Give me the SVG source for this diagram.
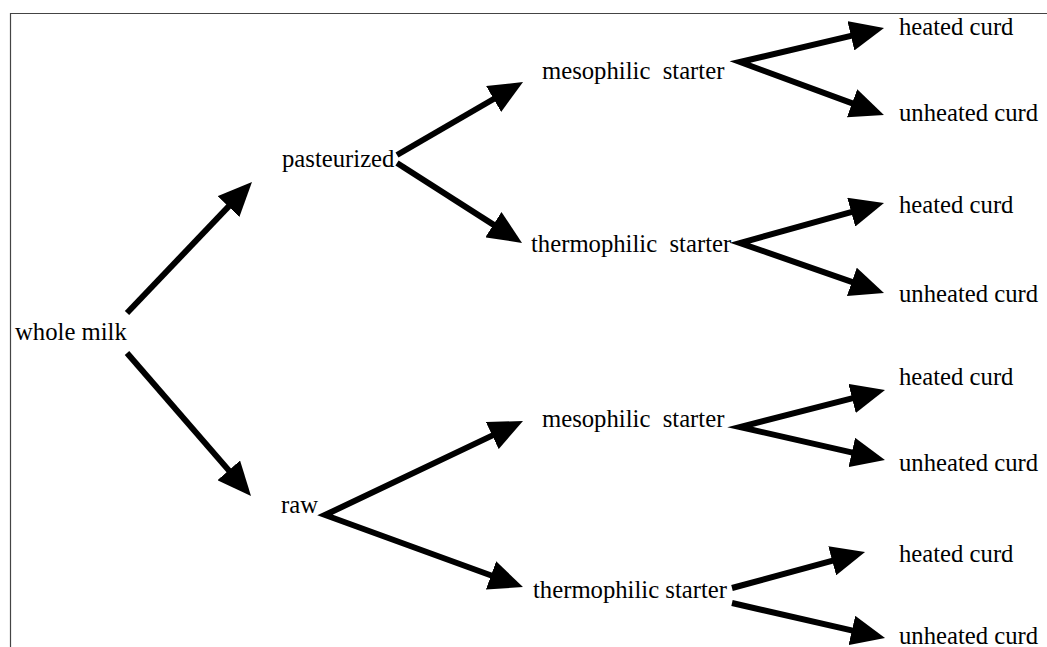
<svg xmlns="http://www.w3.org/2000/svg" width="1047" height="647" viewBox="0 0 1047 647">
<style>
.t{font-family:'Liberation Serif','Times New Roman',Times,'DejaVu Serif',serif;font-size:24.7px;fill:#000}
.c{fill:none;stroke:#000;stroke-width:6;stroke-linejoin:miter;stroke-miterlimit:20}
.frame{fill:none;stroke:#444;stroke-width:1.2}
</style>
<defs>
<marker id="ah" markerUnits="userSpaceOnUse" markerWidth="34" markerHeight="30" viewBox="0 0 34 30" refX="12" refY="15" orient="auto-start-reverse">
<path d="M0,0 L34,15 L0,30 Z" fill="#000"/>
</marker>
</defs>
<rect width="1047" height="647" fill="#fff"/>
<path class="frame" d="M10.5,647 L10.5,13.5 L1047,13.5"/>
<g id="connectors">
<path class="c" d="M127,313 L236.8,197.9" marker-end="url(#ah)"/>
<path class="c" d="M127,353 L236.6,479.4" marker-end="url(#ah)"/>
<path class="c" d="M397,155 L504,93" marker-end="url(#ah)"/>
<path class="c" d="M397,163 L503.5,231.1" marker-end="url(#ah)"/>
<path class="c" d="M503.1,430.4 L325,515 L502.3,579.5" marker-start="url(#ah)" marker-end="url(#ah)"/>
<path class="c" d="M862.6,33.1 L740,62 L863.3,107.4" marker-start="url(#ah)" marker-end="url(#ah)"/>
<path class="c" d="M862.8,208.9 L740,243 L863.2,285.8" marker-start="url(#ah)" marker-end="url(#ah)"/>
<path class="c" d="M863.7,395.4 L740,427 L863.5,455.1" marker-start="url(#ah)" marker-end="url(#ah)"/>
<path class="c" d="M732,588 L843.8,557.7" marker-end="url(#ah)"/>
<path class="c" d="M732,603 L863.6,633.1" marker-end="url(#ah)"/>
</g>
<g id="n-whole-milk"><text class="t" x="15" y="340">whole milk</text></g>
<g id="n-pasteurized"><text class="t" x="282" y="167">pasteurized</text></g>
<g id="n-raw"><text class="t" x="281" y="513">raw</text></g>
<g id="n-meso1"><text class="t" x="542" y="79" xml:space="preserve">mesophilic  starter</text></g>
<g id="n-thermo1"><text class="t" x="531" y="252" xml:space="preserve">thermophilic  starter</text></g>
<g id="n-meso2"><text class="t" x="542" y="427" xml:space="preserve">mesophilic  starter</text></g>
<g id="n-thermo2"><text class="t" x="533" y="598">thermophilic starter</text></g>
<g id="n-hc1"><text class="t" x="899" y="35">heated curd</text></g>
<g id="n-uc1"><text class="t" x="899" y="121">unheated curd</text></g>
<g id="n-hc2"><text class="t" x="899" y="213">heated curd</text></g>
<g id="n-uc2"><text class="t" x="899" y="302">unheated curd</text></g>
<g id="n-hc3"><text class="t" x="899" y="385">heated curd</text></g>
<g id="n-uc3"><text class="t" x="899" y="471">unheated curd</text></g>
<g id="n-hc4"><text class="t" x="899" y="562">heated curd</text></g>
<g id="n-uc4"><text class="t" x="899" y="644">unheated curd</text></g>
</svg>
